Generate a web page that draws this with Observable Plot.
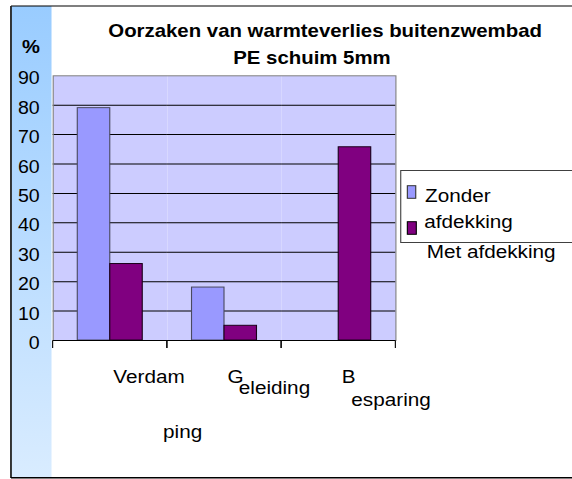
<!DOCTYPE html>
<html>
<head>
<meta charset="utf-8">
<script src="https://cdn.jsdelivr.net/npm/d3@7"></script>
<script src="https://cdn.jsdelivr.net/npm/@observablehq/plot@0.6"></script>
<style>
  html, body { margin: 0; padding: 0; background: #fff; }
  #chart { width: 572px; height: 479px; overflow: hidden; }
</style>
</head>
<body>
<div id="chart"></div>
<script>
// ---- data ----
const categories = ["Verdamping", "Geleiding", "Besparing"];
const series = ["Zonder afdekking", "Met afdekking"];
const zonder = [79, 18, null];
const met = [26, 5, 65.7];
const yTicks = [0, 10, 20, 30, 40, 50, 60, 70, 80, 90];
const labelTop = ["Verdam", "G", "B"];
const labelBottom = ["ping", "eleiding", "esparing"];
const titleLines = ["Oorzaken van warmteverlies buitenzwembad", "PE schuim 5mm"];
const yUnit = "%";
const seriesColors = ["#9999ff", "#800080"];

// ---- layout ----
const SX = 1.12;            // the original is horizontally stretched
const W = 572 / SX, H = 479;
const FONT = "'Liberation Sans', Arial, Helvetica, sans-serif";
const NS = "http://www.w3.org/2000/svg";

const data = categories.flatMap((c, i) => [
  {cause: c, series: series[0], value: zonder[i]},
  {cause: c, series: series[1], value: met[i]}
]).filter(d => d.value != null);

function boundaryTicks(index, scales, values, dimensions, context, next) {
  const g = next(index, scales, values, dimensions, context);
  if (scales.x && scales.y) {
    const [a, b] = scales.x.range();
    const y0 = scales.y(0);
    for (const x of [a, b]) {
      const l = document.createElementNS(NS, "line");
      l.setAttribute("x1", x); l.setAttribute("x2", x);
      l.setAttribute("y1", y0); l.setAttribute("y2", y0 + 7.5);
      l.setAttribute("stroke", "#000");
      g.appendChild(l);
    }
  }
  return g;
}

const LF = 18.5; // label font size
const capT = 0.71 * LF;
const textOpts = {frameAnchor: "bottom", textAnchor: "start", lineAnchor: "top", fontSize: LF, fill: "#000"};

const svg = Plot.plot({
  width: W,
  height: H,
  marginLeft: 46,
  marginRight: W - 354.2,
  marginTop: 75.3,
  marginBottom: H - 340,
  style: {fontFamily: FONT, background: "transparent", overflow: "visible"},
  fx: {domain: categories, padding: 0, axis: null},
  x: {domain: series, paddingInner: 0, paddingOuter: 0.72, axis: null},
  y: {domain: [0, 90], axis: null},
  color: {domain: series, range: seriesColors},
  marks: [
    Plot.frame({fill: "#ccccff", stroke: null}),
    Plot.ruleY(yTicks.filter(t => t > 0 && t < 90), {stroke: "#000", strokeWidth: 1}),
    Plot.frame({stroke: "#808080", fill: "none", facet: "super"}),
    Plot.axisY({ticks: yTicks, tickSize: 0, tickPadding: 12, fontSize: 17.5, label: null, dy: 3, fill: "#000"}),
    Plot.barY(data.filter(d => d.series === series[0]), {fx: "cause", x: "series", y: "value", fill: "series", stroke: "#4a4a60", strokeWidth: 1, inset: 0}),
    Plot.barY(data.filter(d => d.series === series[1]), {fx: "cause", x: "series", y: "value", fill: "series", stroke: "#1a001a", strokeWidth: 1, inset: 0}),
    Plot.ruleY([0], {stroke: "#000", strokeWidth: 1, render: boundaryTicks}),
    Plot.text(labelTop, {...textOpts, fx: categories, text: d => d, dx: 2.7, dy: 382 - 340 - capT}),
    Plot.text([labelBottom[0]], {...textOpts, fx: [categories[0]], text: d => d, dx: 47.1, dy: 437.5 - 340 - capT}),
    Plot.text([labelBottom[1]], {...textOpts, fx: [categories[1]], text: d => d, dx: 12.7, dy: 393.3 - 340 - capT}),
    Plot.text([labelBottom[2]], {...textOpts, fx: [categories[2]], text: d => d, dx: 11.2, dy: 405 - 340 - capT})
  ]
});

// ---- decorations: gradient column, outer border, title, unit, legend ----
const s = d3.select(svg);
const defs = s.insert("defs", ":first-child");
const grad = defs.append("linearGradient").attr("id", "colgrad").attr("x1", 0).attr("y1", 0).attr("x2", 0).attr("y2", 1);
grad.append("stop").attr("offset", "0%").attr("stop-color", "#99ccff");
grad.append("stop").attr("offset", "100%").attr("stop-color", "#d9ecff");
const bg = s.insert("g", "defs + *");
bg.append("rect").attr("x", 9.8).attr("y", 6).attr("width", 46 - 9.8).attr("height", 478 - 6).attr("fill", "url(#colgrad)");

const deco = s.append("g").attr("text-anchor", "start");
deco.append("line").attr("x1", 9.8).attr("x2", W + 5).attr("y1", 6).attr("y2", 6).attr("stroke", "#000").attr("stroke-width", 1);
deco.append("line").attr("x1", 9.8).attr("x2", 9.8).attr("y1", 6).attr("y2", 478).attr("stroke", "#222").attr("stroke-width", 1.6);
deco.append("line").attr("x1", 9.8).attr("x2", W + 5).attr("y1", 477.7).attr("y2", 477.7).attr("stroke", "#000").attr("stroke-width", 1.5);

const tt = deco.append("g").attr("font-family", FONT).attr("font-weight", "bold").attr("font-size", 18.2).attr("fill", "#000").attr("text-anchor", "start");
tt.append("text").attr("x", 96.7).attr("y", 36.7).text(titleLines[0]);
tt.append("text").attr("x", 208.3).attr("y", 64).text(titleLines[1]);
deco.append("text").attr("x", 19.6).attr("y", 52.7).attr("text-anchor", "start").attr("font-family", FONT).attr("font-weight", "bold").attr("font-size", 18).text(yUnit);

const lg = deco.append("g").attr("font-family", FONT).attr("font-size", 18.5).attr("fill", "#000").attr("text-anchor", "start");
lg.append("rect").attr("x", 357.8).attr("y", 170.5).attr("width", 200).attr("height", 72).attr("fill", "#fff").attr("stroke", "#404040");
lg.append("rect").attr("x", 363.7).attr("y", 185.7).attr("width", 7.5).attr("height", 12.6).attr("fill", seriesColors[0]).attr("stroke", "#333");
lg.append("rect").attr("x", 363.7).attr("y", 221.7).attr("width", 8).attr("height", 12.6).attr("fill", seriesColors[1]).attr("stroke", "#000");
const firstWords = series[0].split(" ");
lg.append("text").attr("x", 379.5).attr("y", 201.7).text(firstWords[0]);
lg.append("text").attr("x", 378.8).attr("y", 228.3).text(firstWords.slice(1).join(" "));
lg.append("text").attr("x", 381).attr("y", 257.7).text(series[1]);

// stretch horizontally like the original
svg.setAttribute("width", 572);
svg.setAttribute("height", 479);
svg.setAttribute("preserveAspectRatio", "none");
svg.style.width = "572px";
svg.style.height = "479px";
svg.style.maxWidth = "none";

document.getElementById("chart").appendChild(svg);
</script>
</body>
</html>
